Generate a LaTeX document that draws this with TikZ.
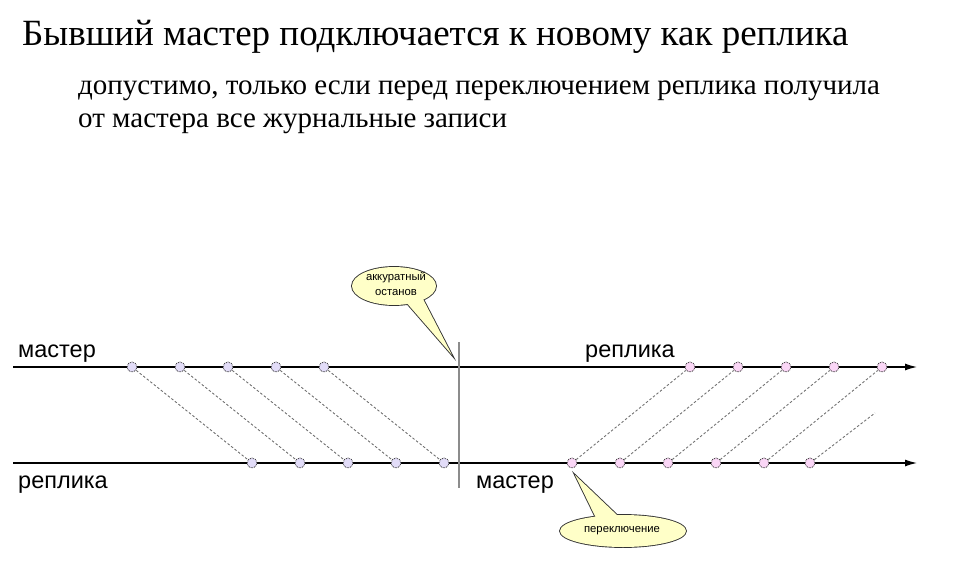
\documentclass[tikz,border=0pt]{standalone}
\usepackage{fontspec}
\setmainfont{Liberation Serif}
\newfontfamily\arialf{Liberation Sans}
\usetikzlibrary{arrows.meta,shapes.geometric}
\definecolor{mfill}{RGB}{226,220,248}
\definecolor{rfill}{RGB}{250,214,246}
\definecolor{cfill}{RGB}{255,255,200}
\begin{document}
\begin{tikzpicture}[x=1pt,y=-1pt,
  dot/.style={circle,inner sep=0pt,minimum size=10pt,draw=black!85,densely dotted,line width=0.8pt},
  mdot/.style={dot,fill=mfill},
  rdot/.style={dot,fill=rfill},
  conn/.style={draw=black!55,dash pattern=on 2.5pt off 2pt,line width=0.9pt},
  axisline/.style={draw=black,line width=1.2pt,-{Latex[length=12pt,width=7pt]}},
  lbl/.style={font=\arialf\fontsize{23.5}{27}\selectfont,anchor=base west,inner sep=0pt},
  calltext/.style={font=\arialf\fontsize{11.3}{14.5}\selectfont,align=center,inner sep=0pt},
  callborder/.style={draw=black!80,line width=1.8pt,fill=cfill},
  callfill/.style={fill=cfill}
]
\useasboundingbox (0,0) rectangle (975,562);

% title
\node[anchor=base west,inner sep=0pt,font=\fontsize{37}{42}\selectfont] (title) at (22,45) {Бывший мастер подключается к новому как реплика};
\node[anchor=base west,inner sep=0pt,font=\fontsize{29}{33}\selectfont] (sub1) at (78,94) {допустимо, только если перед переключением реплика получила};
\node[anchor=base west,inner sep=0pt,font=\fontsize{29}{33}\selectfont] (sub2) at (78,127) {от мастера все журнальные записи};

% axes
\coordinate (t0) at (13,367);
\coordinate (t1) at (917,367);
\coordinate (b0) at (13,463);
\coordinate (b1) at (917,463);
\draw[axisline] (t0) -- (t1);
\draw[axisline] (b0) -- (b1);

% vertical switch line
\coordinate (v0) at (459,342);
\coordinate (v1) at (459,488);
\draw[black!45,line width=1.2pt] (v0) -- (v1);

% labels
\node[lbl] (lm) at (18,357) {мастер};
\node[lbl] (lr) at (18,488) {реплика};
\node[lbl] (rr) at (585,357) {реплика};
\node[lbl] (rm) at (476,488) {мастер};

% left points
\foreach \i/\x in {1/132,2/180,3/228,4/276,5/324}{
  \node[mdot] (mt\i) at (\x,367) {};
}
\foreach \i/\x in {1/252,2/300,3/348,4/396,5/444}{
  \node[mdot] (mb\i) at (\x,463) {};
}
\foreach \i in {1,...,5}{
  \draw[conn] (mt\i) -- (mb\i);
}

% right points
\foreach \i/\x in {1/690,2/738,3/786,4/834,5/882}{
  \node[rdot] (rt\i) at (\x,367) {};
}
\foreach \i/\x in {1/572,2/620,3/668,4/716,5/764,6/810}{
  \node[rdot] (rb\i) at (\x,463) {};
}
\foreach \i in {1,...,5}{
  \draw[conn] (rb\i) -- (rt\i);
}
\coordinate (rend) at (875,413);
\draw[conn] (rb6) -- (rend);

% callout 1
\coordinate (c1a) at (405,301);
\coordinate (c1b) at (422,297);
\coordinate (c1t) at (452,355);
\path[callborder] (394,286) ellipse [x radius=42, y radius=19];
\path[callborder,line join=miter] (c1a) -- (c1t) -- (c1b) -- cycle;
\path[callfill] (394,286) ellipse [x radius=42, y radius=19];
\path[callfill] (c1a) -- (c1t) -- (c1b) -- cycle;
\node[calltext] (c1) at (396,284) {аккуратный\\останов};

% callout 2
\coordinate (c2a) at (596,518);
\coordinate (c2b) at (618,516);
\coordinate (c2t) at (575,475);
\path[callborder] (623,531) ellipse [x radius=63, y radius=16];
\path[callborder,line join=miter] (c2a) -- (c2t) -- (c2b) -- cycle;
\path[callfill] (623,531) ellipse [x radius=63, y radius=16];
\path[callfill] (c2a) -- (c2t) -- (c2b) -- cycle;
\node[calltext] (c2) at (622,531) {переключение};
\end{tikzpicture}
\end{document}
